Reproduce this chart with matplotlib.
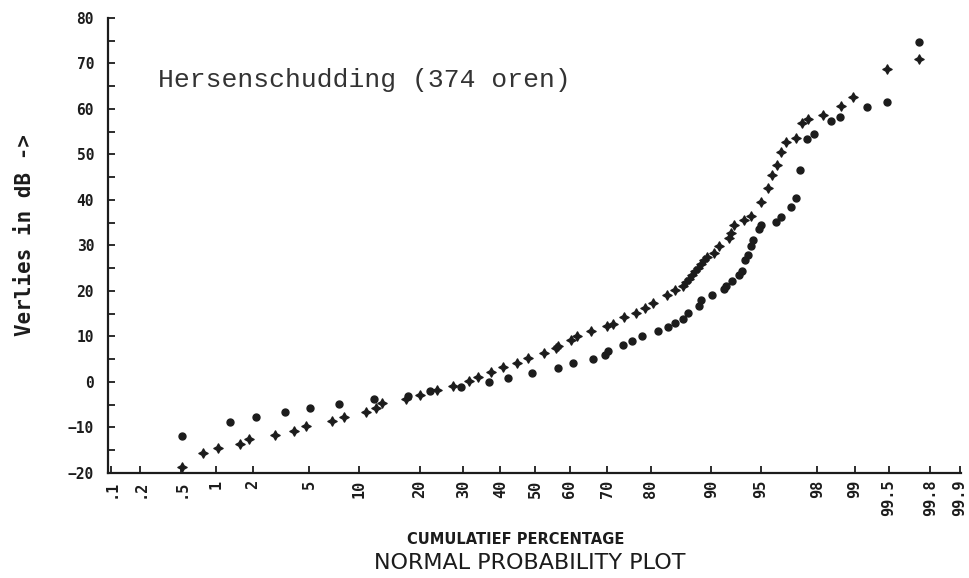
import numpy as np
import matplotlib
matplotlib.use('Agg')
import matplotlib.pyplot as plt
from statistics import NormalDist

# cumulative percentage / loss in dB
pct_plus = [0.51, 0.78, 1.05, 1.58, 1.85, 2.9, 3.96, 4.76, 6.92, 8.21,
            10.95, 12.26, 13.3, 17.4, 20.0, 23.8, 27.6, 31.6, 33.8, 37.4,
            40.7, 44.6, 47.9, 52.5, 56.1, 56.6, 60.3, 62.0, 65.8, 70.0,
            71.4, 74.1, 76.8, 78.8, 80.5, 83.1, 84.5, 85.9, 86.4, 86.9,
            87.3, 87.8, 88.2, 88.6, 89.05, 89.4, 90.4, 91.0, 92.1, 92.35,
            92.6, 93.6, 94.2, 95.0, 95.5, 95.8, 96.1, 96.35, 96.6, 97.1,
            97.4, 97.65, 98.2, 98.7, 98.96, 99.48, 99.74]
db_plus = [-18.6, -15.6, -14.5, -13.7, -12.6, -11.7, -10.7, -9.7, -8.6, -7.7,
           -6.7, -5.8, -4.7, -3.8, -2.8, -1.8, -0.9, 0.2, 1.2, 2.2,
           3.2, 4.2, 5.2, 6.3, 7.4, 8.0, 9.2, 10.2, 11.3, 12.3,
           12.7, 14.3, 15.2, 16.2, 17.4, 19.2, 20.2, 21.2, 22.0, 22.7,
           23.5, 24.3, 25.1, 25.9, 26.8, 27.5, 28.3, 29.9, 31.6, 32.7,
           34.4, 35.5, 36.4, 39.5, 42.6, 45.5, 47.7, 50.6, 52.8, 53.7,
           56.9, 57.8, 58.7, 60.7, 62.7, 68.8, 70.9]

pct_dot = [0.51, 1.31, 2.1, 3.42, 5.03, 7.67, 12.04, 17.7, 22.1, 29.4,
           36.8, 42.1, 49.1, 56.6, 60.8, 66.3, 69.5, 70.2, 73.8, 76.0,
           78.2, 81.5, 83.4, 84.5, 85.9, 86.7, 88.4, 88.7, 90.1, 91.5,
           91.8, 92.4, 93.15, 93.35, 93.7, 93.9, 94.2, 94.4, 94.85, 95.0,
           96.05, 96.3, 96.85, 97.1, 97.3, 97.6, 97.9, 98.43, 98.68, 99.21,
           99.48, 99.74]
db_dot = [-11.8, -8.7, -7.8, -6.7, -5.8, -4.9, -3.8, -3.1, -1.9, -1.1,
          -0.1, 0.9, 2.0, 3.0, 4.1, 5.0, 5.9, 6.8, 8.1, 9.0,
          10.0, 11.1, 12.0, 13.0, 13.8, 15.1, 16.8, 18.0, 19.1, 20.4,
          21.1, 22.2, 23.5, 24.4, 26.9, 27.8, 29.8, 31.2, 33.7, 34.6,
          35.2, 36.3, 38.4, 40.4, 46.5, 53.4, 54.4, 57.4, 58.3, 60.5,
          61.5, 74.8]

x_ticks = [0.1, 0.2, 0.5, 1, 2, 5, 10, 20, 30, 40, 50, 60, 70, 80, 90, 95,
           98, 99, 99.5, 99.8, 99.9]
x_labels = ['.1', '.2', '.5', '1', '2', '5', '10', '20', '30', '40', '50',
            '60', '70', '80', '90', '95', '98', '99', '99.5', '99.8', '99.9']

nd = NormalDist()
def probit(p):
    return [nd.inv_cdf(v / 100.0) for v in p]

ink = '#1c1c1c'
mono = ['DejaVu Sans Mono', 'DejaVu Sans']

fig = plt.figure(figsize=(9.7, 5.78), dpi=100)
ax = fig.add_axes([0.1113, 0.1817, 0.8794, 0.7872])

ax.plot(probit(pct_plus), db_plus, linestyle='none', marker=(4, 1, 0),
        markersize=7, color=ink, markeredgewidth=0.8)
ax.plot(probit(pct_dot), db_dot, linestyle='none', marker='o',
        markersize=5, color=ink)

ax.set_xlim(nd.inv_cdf(0.001) - 0.02, nd.inv_cdf(0.999) + 0.01)
ax.set_ylim(-20, 80)

ax.set_xticks(probit(x_ticks))
ax.set_xticklabels(x_labels, rotation=90, fontfamily=mono,
                   fontweight='bold', fontsize=11)
ax.set_yticks(np.arange(-20, 81, 10))
ax.set_yticks(np.arange(-15, 80, 10), minor=True)
for lab in ax.get_yticklabels():
    lab.set_fontfamily(mono)
    lab.set_fontweight('bold')
    lab.set_fontsize(10.5)

ax.tick_params(axis='both', which='both', direction='in', length=5,
               width=1.3, color=ink, labelcolor=ink)
ax.tick_params(axis='y', pad=10)
ax.tick_params(axis='x', pad=5)

for s in ['top', 'right']:
    ax.spines[s].set_visible(False)
for s in ['left', 'bottom']:
    ax.spines[s].set_linewidth(1.6)
    ax.spines[s].set_color(ink)

fig.text(25 / 970, 1 - 235 / 578, 'Verlies in dB ->', rotation=90,
         ha='center', va='center', fontfamily=mono, fontweight='bold',
         fontsize=15, color=ink)
fig.text(158 / 970, 1 - 80 / 578, 'Hersenschudding (374 oren)',
         ha='left', va='center', fontfamily='Liberation Mono',
         fontsize=19, color='#333333')
fig.text(516 / 970, 1 - 540 / 578, 'CUMULATIEF PERCENTAGE',
         ha='center', va='center', fontfamily='DejaVu Sans',
         fontweight='bold', fontsize=10.5, color=ink)
fig.text(530 / 970, 1 - 563 / 578, 'NORMAL PROBABILITY PLOT',
         ha='center', va='center', fontfamily='DejaVu Sans',
         fontsize=16, color=ink)

fig.savefig('out.png', dpi=100, facecolor='white')
